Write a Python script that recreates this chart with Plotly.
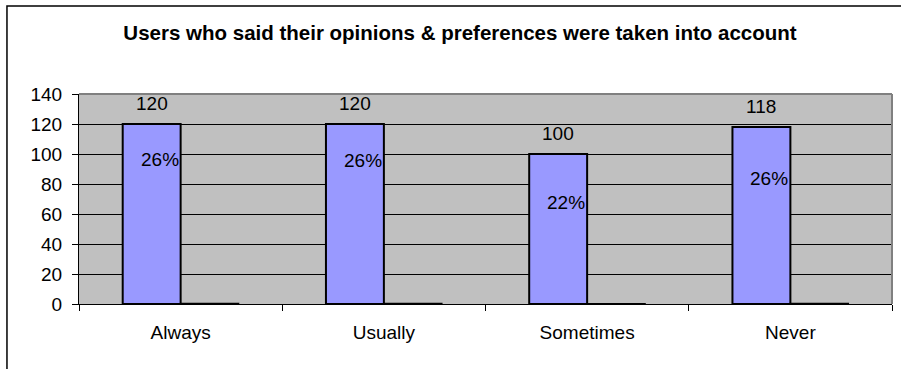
import plotly.graph_objects as go

categories = ["Always", "Usually", "Sometimes", "Never"]
counts = [120, 120, 100, 118]
shares = [0.26, 0.26, 0.22, 0.26]
share_labels = ["26%", "26%", "22%", "26%"]
share_label_heights = [96.5, 96.0, 67.5, 83.5]
y_ticks = [0, 20, 40, 60, 80, 100, 120, 140]
title_text = "Users who said their opinions &amp; preferences were taken into account"

FONT = "Arial, 'Liberation Sans', sans-serif"
FS = 19

fig = go.Figure()
fig.add_trace(go.Bar(x=categories, y=counts, marker=dict(color="#9999ff", line=dict(color="black", width=2)),
                     hoverinfo="skip", showlegend=False))
fig.add_trace(go.Bar(x=categories, y=shares, marker=dict(color="#993366", line=dict(color="black", width=1.5)),
                     hoverinfo="skip", showlegend=False))

annotations = []
for c, v in zip(categories, counts):
    annotations.append(dict(x=c, y=v, xref="x", yref="y", text=str(v), showarrow=False,
                            xshift=-29, yshift=21, yanchor="middle",
                            font=dict(family=FONT, size=FS, color="black")))
for c, t, h in zip(categories, share_labels, share_label_heights):
    annotations.append(dict(x=c, y=h, xref="x", yref="y", text=t, showarrow=False,
                            xshift=-21, yanchor="middle",
                            font=dict(family=FONT, size=FS, color="black")))

shapes = [
    # outer chart frame (left and top edges visible)
    dict(type="rect", xref="paper", yref="paper", x0=-0.0886, x1=1.2, y0=-0.6, y1=1.419,
         line=dict(color="black", width=1.5), fillcolor="rgba(0,0,0,0)", layer="above"),
    # plot area border top/right (gray)
    dict(type="line", xref="paper", yref="paper", x0=0, x1=1, y0=1, y1=1,
         line=dict(color="#808080", width=2), layer="above"),
    dict(type="line", xref="paper", yref="paper", x0=1, x1=1, y0=0, y1=1,
         line=dict(color="#808080", width=2), layer="above"),
]

fig.update_layout(
    width=901, height=369,
    margin=dict(l=79, r=9, t=94, b=65),
    paper_bgcolor="white", plot_bgcolor="#c0c0c0",
    barmode="group", bargap=0.43, bargroupgap=0,
    title=dict(text="<b>" + title_text + "</b>", x=460/901, xanchor="center",
               y=1 - 33/369, yanchor="middle", yref="container",
               font=dict(family=FONT, size=20.5, color="black")),
    font=dict(family=FONT, size=FS, color="black"),
    annotations=annotations, shapes=shapes,
)
fig.update_xaxes(showline=True, linecolor="black", linewidth=1, ticks="outside", ticklen=6,
                 tickcolor="black", tickson="boundaries", showgrid=False,
                 tickfont=dict(family=FONT, size=FS, color="black"), ticklabelstandoff=11)
fig.update_yaxes(range=[0, 140], tickvals=y_ticks, showline=True, linecolor="black", linewidth=1,
                 ticks="outside", ticklen=6, tickcolor="black", showgrid=True, gridcolor="black",
                 gridwidth=1, zeroline=False,
                 tickfont=dict(family=FONT, size=FS, color="black"), ticklabelstandoff=6)

fig.write_html("out.html")
